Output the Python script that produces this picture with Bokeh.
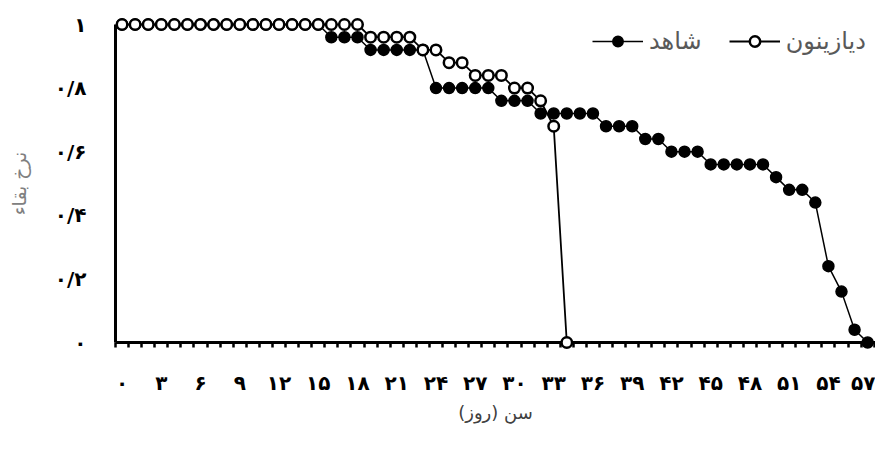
from bokeh.plotting import figure
from bokeh.models import FixedTicker, Range1d, Legend, LegendItem
from bokeh.embed import file_html
from bokeh.resources import INLINE

# ---- data ----
control_days = [0, 1, 2, 3, 4, 5, 6, 7, 8, 9, 10, 11, 12, 13, 14, 15, 16, 17, 18, 19,
                20, 21, 22, 23, 24, 25, 26, 27, 28, 29, 30, 31, 32, 33, 34, 35, 36, 37, 38, 39,
                40, 41, 42, 43, 44, 45, 46, 47, 48, 49, 50, 51, 52, 53, 54, 55, 56, 57]
control_surv = [1.0, 1.0, 1.0, 1.0, 1.0, 1.0, 1.0, 1.0, 1.0, 1.0, 1.0, 1.0, 1.0, 1.0, 1.0, 1.0,
                0.96, 0.96, 0.96,
                0.92, 0.92, 0.92, 0.92, 0.92,
                0.80, 0.80, 0.80, 0.80, 0.80,
                0.76, 0.76, 0.76,
                0.72, 0.72, 0.72, 0.72, 0.72,
                0.68, 0.68, 0.68,
                0.64, 0.64,
                0.60, 0.60, 0.60,
                0.56, 0.56, 0.56, 0.56, 0.56,
                0.52,
                0.48, 0.48,
                0.44,
                0.24,
                0.16,
                0.04,
                0.0]

diazinon_days = [0, 1, 2, 3, 4, 5, 6, 7, 8, 9, 10, 11, 12, 13, 14, 15, 16, 17, 18, 19,
                 20, 21, 22, 23, 24, 25, 26, 27, 28, 29, 30, 31, 32, 33, 34]
diazinon_surv = [1.0, 1.0, 1.0, 1.0, 1.0, 1.0, 1.0, 1.0, 1.0, 1.0, 1.0, 1.0, 1.0, 1.0, 1.0, 1.0,
                 1.0, 1.0, 1.0,
                 0.96, 0.96, 0.96, 0.96,
                 0.92, 0.92,
                 0.88, 0.88,
                 0.84, 0.84, 0.84,
                 0.80, 0.80,
                 0.76,
                 0.68,
                 0.0]

x_tick_values = [0, 3, 6, 9, 12, 15, 18, 21, 24, 27, 30, 33, 36, 39, 42, 45, 48, 51, 54, 57]
x_tick_labels = ["۰", "۳", "۶", "۹", "۱۲", "۱۵", "۱۸", "۲۱", "۲۴", "۲۷",
                 "۳۰", "۳۳", "۳۶", "۳۹", "۴۲", "۴۵", "۴۸", "۵۱", "۵۴", "۵۷"]
y_tick_values = [0, 0.2, 0.4, 0.6, 0.8, 1.0]
y_tick_labels = ["۰", "۰/۲", "۰/۴", "۰/۶", "۰/۸", "۱"]

series_names = ["شاهد", "دیازینون"]
x_title = "\u200fسن (روز)\u200f"
y_title = "نرخ بقاء"

FONT = "DejaVu Sans"

p = figure(width=875, height=432, output_backend="svg", toolbar_location=None,
           x_range=Range1d(-0.5, 57.6), y_range=Range1d(0, 1),
           min_border_left=115, min_border_right=0, min_border_top=24, min_border_bottom=90)
p.outline_line_color = None
p.xgrid.visible = False
p.ygrid.visible = False
p.background_fill_color = "white"
p.border_fill_color = "white"

# category boundaries for the x tick marks
boundaries = [d - 0.5 for d in control_days] + [control_days[-1] + 0.5]

xa = p.xaxis[0]
xa.ticker = FixedTicker(ticks=x_tick_values, minor_ticks=boundaries)
xa.major_label_overrides = {v: s for v, s in zip(x_tick_values, x_tick_labels)}
xa.axis_line_width = 3
xa.axis_line_color = "black"
xa.major_tick_out = 0
xa.major_tick_in = 0
xa.minor_tick_out = 5
xa.minor_tick_in = 0
xa.minor_tick_line_width = 2.5
xa.minor_tick_line_color = "black"
xa.major_label_standoff = 23
xa.major_label_text_font = FONT
xa.major_label_text_font_size = "20px"
xa.major_label_text_font_style = "bold"
xa.major_label_text_color = "black"
xa.axis_label = x_title
xa.axis_label_text_font = FONT
xa.axis_label_text_font_size = "18px"
xa.axis_label_text_font_style = "normal"
xa.axis_label_text_color = "#404040"
xa.axis_label_standoff = 4

ya = p.yaxis[0]
ya.ticker = FixedTicker(ticks=y_tick_values, minor_ticks=[])
ya.major_label_overrides = {v: s for v, s in zip(y_tick_values, y_tick_labels)}
ya.axis_line_width = 3
ya.axis_line_color = "black"
ya.major_tick_out = 0
ya.major_tick_in = 0
ya.minor_tick_out = 0
ya.minor_tick_in = 0
ya.major_label_standoff = 29
ya.major_label_text_font = FONT
ya.major_label_text_font_size = "20px"
ya.major_label_text_font_style = "bold"
ya.major_label_text_color = "black"
ya.axis_label = y_title
ya.axis_label_text_font = FONT
ya.axis_label_text_font_size = "19px"
ya.axis_label_text_font_style = "normal"
ya.axis_label_text_color = "#808080"
ya.axis_label_standoff = 22

c_line = p.line(control_days, control_surv, line_color="black", line_width=1.5, level="overlay")
c_pts = p.scatter(control_days, control_surv, marker="circle", size=11,
                  fill_color="black", line_color="black", line_width=1.5, level="overlay")
d_line = p.line(diazinon_days, diazinon_surv, line_color="black", line_width=1.8, level="overlay")
d_pts = p.scatter(diazinon_days, diazinon_surv, marker="circle", size=10.5,
                  fill_color="white", line_color="black", line_width=2.5, level="overlay")

legend = Legend(items=[LegendItem(label=series_names[0], renderers=[c_line, c_pts]),
                       LegendItem(label=series_names[1], renderers=[d_line, d_pts])],
                orientation="horizontal", location=(477, 287),
                glyph_width=51, glyph_height=26, label_standoff=6, spacing=27,
                padding=0, margin=0, border_line_color=None, background_fill_alpha=0,
                label_text_font=FONT, label_text_font_size="24px",
                label_text_color="#595959")
p.add_layout(legend)

open("out.html", "w").write(file_html(p, INLINE))
